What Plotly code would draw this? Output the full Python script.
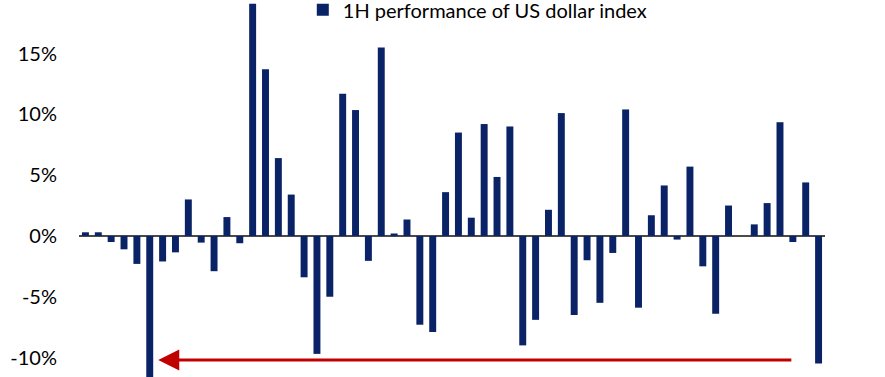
import plotly.graph_objects as go

years = list(range(1968, 2026))
perf = [0.3, 0.3, -0.5, -1.1, -2.3, -11.9, -2.1, -1.35, 3.0, -0.55,
        -2.9, 1.55, -0.6, 19.1, 13.7, 6.4, 3.4, -3.4, -9.7, -5.0,
        11.7, 10.35, -2.05, 15.5, 0.2, 1.35, -7.3, -7.9, 3.6, 8.5,
        1.5, 9.2, 4.85, 9.0, -9.0, -6.9, 2.15, 10.1, -6.5, -2.0,
        -5.5, -1.4, 10.4, -5.9, 1.7, 4.15, -0.3, 5.7, -2.5, -6.4,
        2.5, 0.0, 0.95, 2.7, 9.35, -0.5, 4.4, -10.5]
ytick_vals = [-10, -5, 0, 5, 10, 15]
ytick_text = ["-10%", "-5%", "0%", "5%", "10%", "15%"]
series_name = "1H performance of US dollar index"
arrow_from = (2023.0, -10.2)
arrow_to = (1973.66, -10.2)

FONT = "Lato, 'Open Sans', sans-serif"
NAVY = "#0A2266"

fig = go.Figure()
fig.add_trace(go.Bar(x=years, y=perf, name=series_name, marker_color=NAVY,
                     marker_line_width=0, showlegend=True))

fig.add_annotation(x=arrow_to[0], y=arrow_to[1], ax=arrow_from[0], ay=arrow_from[1],
                   xref="x", yref="y", axref="x", ayref="y", text="",
                   showarrow=True, arrowhead=2, arrowsize=1.4, arrowwidth=3,
                   arrowcolor="#C00000", standoff=0, startstandoff=0)

fig.add_annotation(text="20%", xref="paper", yref="paper", x=0, y=(20 + 11.6) / 31.0,
                   xanchor="right", yanchor="middle", xshift=-21, yshift=3, showarrow=False,
                   font=dict(family=FONT, size=20, color="#000"))

fig.update_layout(
    width=885, height=377,
    margin=dict(l=79, r=60, t=0, b=0, autoexpand=False),
    paper_bgcolor="white", plot_bgcolor="white",
    bargap=0.46,
    font=dict(family=FONT, size=20, color="#000"),
    showlegend=True,
    legend=dict(x=0.300, xanchor="left", y=0.974, yanchor="middle",
                bgcolor="rgba(0,0,0,0)", font=dict(family=FONT, size=20, color="#000"),
                itemwidth=30),
    xaxis=dict(type="linear", range=[1967.5, 2025.5], showticklabels=False,
               showgrid=False, zeroline=False, showline=False, ticks=""),
    yaxis=dict(range=[-11.6, 19.4], tickvals=ytick_vals, ticktext=ytick_text,
               showgrid=False, zeroline=True, zerolinecolor="#4a4a4a", zerolinewidth=2,
               showline=False, ticks="", ticklabelstandoff=21,
               tickfont=dict(family=FONT, size=20, color="#000")),
)

fig.write_html("out.html", config={"displayModeBar": False},
               post_script="document.body.style.margin='0';")
